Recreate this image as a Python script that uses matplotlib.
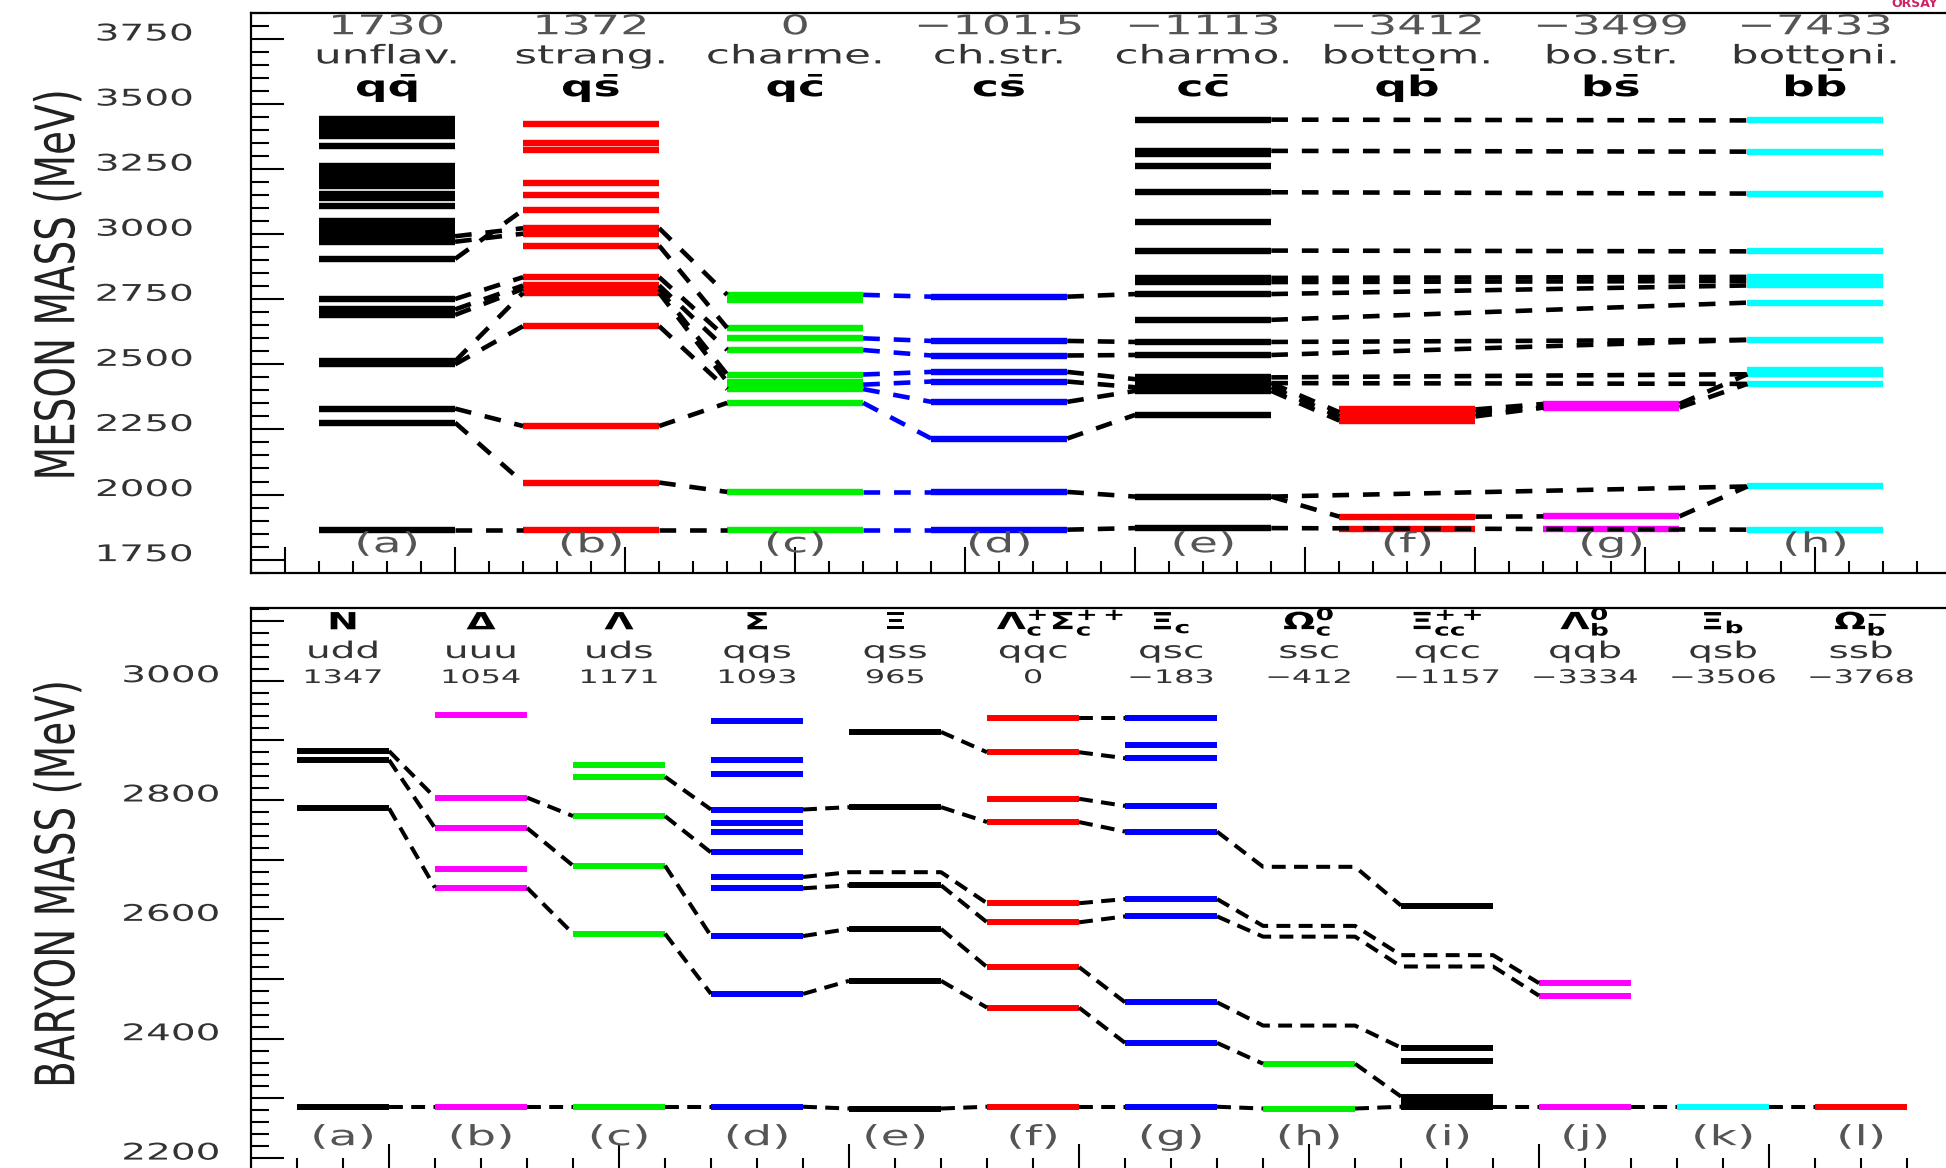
import numpy as np
import matplotlib
matplotlib.use("Agg")
import matplotlib.pyplot as plt
import matplotlib.patheffects as pe
from matplotlib.transforms import Affine2D, ScaledTranslation
from matplotlib.ticker import FixedLocator, FuncFormatter

plt.rcParams['font.family'] = ['DejaVu Sans']
plt.rcParams['mathtext.fontset'] = 'dejavusans'
plt.rcParams['lines.scale_dashes'] = False

# ---------------- mesons: levels in MeV, each family shifted by its offset ----------------
meson_offsets = ['1730', '1372', '0', '\u2212101.5', '\u22121113', '\u22123412', '\u22123499', '\u22127433']
meson_names = ['unflav.', 'strang.', 'charme.', 'ch.str.', 'charmo.', 'bottom.', 'bo.str.', 'bottoni.']
meson_quarks = [r'$\mathbf{q\bar{q}}$', r'$\mathbf{q\bar{s}}$', r'$\mathbf{q\bar{c}}$', r'$\mathbf{c\bar{s}}$',
                r'$\mathbf{c\bar{c}}$', r'$\mathbf{q\bar{b}}$', r'$\mathbf{b\bar{s}}$', r'$\mathbf{b\bar{b}}$']
meson_tags = ['(a)', '(b)', '(c)', '(d)', '(e)', '(f)', '(g)', '(h)']
meson_colors = ['black', 'red', '#00ee00', '#0000ff', 'black', 'red', '#ff00ff', '#00ffff']

lv_qq = [1865, 2276, 2330, 2500, 2512, 2690, 2711, 2751, 2905, 2971, 2992, 3013, 3034, 3052,
         3107, 3138, 3155, 3187, 3207, 3228, 3249, 3262, 3338, 3379, 3400, 3421, 3443]
lv_qs = [1865, 2046, 2263, 2647, 2775, 2790, 2803, 2835, 2956, 3002, 3023, 3093, 3152, 3198,
         3322, 3352, 3422]
lv_qc = [1865, 2010, 2352, 2405, 2422, 2433, 2461, 2555, 2600, 2640, 2746, 2767]
lv_cs = [1865, 2010, 2215, 2356, 2434, 2471, 2534, 2590, 2760]
lv_cc = [1871, 1992, 2306, 2398, 2412, 2428, 2443, 2450, 2536, 2586, 2671, 2770, 2816, 2832,
         2937, 3048, 3161, 3262, 3308, 3320, 3440]
lv_qb = [1867, 1915, 2284, 2300, 2316, 2327]
lv_bs = [1868, 1916, 2334, 2348]
lv_bb = [1865, 2031, 2425, 2462, 2477, 2594, 2737, 2803, 2820, 2836, 2934, 3156, 3317, 3437]
meson_levels = [lv_qq, lv_qs, lv_qc, lv_cs, lv_cc, lv_qb, lv_bs, lv_bb]

# dashed correspondences: chains of (column, level)
meson_links = [
    [(0, 1865), (1, 1865)], [(0, 2276), (1, 2046)], [(0, 2330), (1, 2263)],
    [(0, 2500), (1, 2647)], [(0, 2512), (1, 2775)], [(0, 2690), (1, 2790)],
    [(0, 2711), (1, 2803)], [(0, 2751), (1, 2835)], [(0, 2905), (1, 3093)],
    [(0, 2971), (1, 3002)], [(0, 2992), (1, 3023)],
    [(1, 1865), (2, 1865)], [(1, 2046), (2, 2010)], [(1, 2263), (2, 2352)],
    [(1, 2647), (2, 2405)], [(1, 2775), (2, 2433)], [(1, 2790), (2, 2461)],
    [(1, 2803), (2, 2555)], [(1, 2835), (2, 2600)], [(1, 2956), (2, 2640)],
    [(1, 3023), (2, 2767)],
    [(3, 1865), (4, 1871)], [(3, 2010), (4, 1992)], [(3, 2215), (4, 2306)],
    [(3, 2356), (4, 2398)], [(3, 2434), (4, 2412)], [(3, 2471), (4, 2443)],
    [(3, 2534), (4, 2536)], [(3, 2590), (4, 2586)], [(3, 2760), (4, 2770)],
    [(4, 2398), (5, 2284)], [(4, 2412), (5, 2300)], [(4, 2428), (5, 2316)],
    [(4, 1992), (5, 1915)],
    [(5, 1915), (6, 1916)], [(5, 2300), (6, 2334)], [(5, 2316), (6, 2334)], [(5, 2327), (6, 2348)],
    [(6, 1916), (7, 2031)], [(6, 2334), (7, 2425)], [(6, 2348), (7, 2462)],
    [(4, 1871), (7, 1865)], [(4, 1992), (7, 2031)], [(4, 2428), (7, 2425)],
    [(4, 2450), (7, 2462)], [(4, 2536), (7, 2594)], [(4, 2586), (7, 2594)],
    [(4, 2671), (7, 2737)], [(4, 2770), (7, 2803)], [(4, 2816), (7, 2820)],
    [(4, 2832), (7, 2836)], [(4, 2937), (7, 2934)], [(4, 3161), (7, 3156)],
    [(4, 3320), (7, 3317)], [(4, 3440), (7, 3437)],
]
meson_links_blue = [
    [(2, 1865), (3, 1865)], [(2, 2010), (3, 2010)], [(2, 2352), (3, 2215)],
    [(2, 2405), (3, 2356)], [(2, 2422), (3, 2434)], [(2, 2461), (3, 2471)],
    [(2, 2555), (3, 2534)], [(2, 2600), (3, 2590)], [(2, 2767), (3, 2760)],
]

# ---------------- baryons ----------------
baryon_symbols = ['N', '\u0394', '\u039b', '\u03a3', '\u039e',
                  r'$\mathbf{\Lambda_c^{+}\Sigma_c^{++}}$', r'$\mathbf{\Xi_c}$', r'$\mathbf{\Omega_c^{0}}$',
                  r'$\mathbf{\Xi_{cc}^{++}}$', r'$\mathbf{\Lambda_b^{0}}$', r'$\mathbf{\Xi_b}$',
                  r'$\mathbf{\Omega_b^{-}}$']
baryon_quarks = ['udd', 'uuu', 'uds', 'qqs', 'qss', 'qqc', 'qsc', 'ssc', 'qcc', 'qqb', 'qsb', 'ssb']
baryon_offsets = ['1347', '1054', '1171', '1093', '965', '0', '\u2212183', '\u2212412',
                  '\u22121157', '\u22123334', '\u22123506', '\u22123768']
baryon_tags = ['(a)', '(b)', '(c)', '(d)', '(e)', '(f)', '(g)', '(h)', '(i)', '(j)', '(k)', '(l)']
baryon_colors = ['black', '#ff00ff', '#00ee00', '#0000ff', 'black', 'red',
                 '#0000ff', '#00ee00', 'black', '#ff00ff', '#00ffff', 'red']

lv_N = [2286, 2786, 2867, 2882]
lv_Delta = [2286, 2653, 2684, 2753, 2804, 2943]
lv_Lambda = [2286, 2576, 2690, 2773, 2839, 2859]
lv_Sigma = [2286, 2475, 2572, 2652, 2671, 2712, 2747, 2762, 2784, 2844, 2867, 2932]
lv_Xi = [2283, 2497, 2584, 2657, 2788, 2914]
lv_Lc_Sc = [2286, 2452, 2520, 2595, 2627, 2763, 2802, 2880, 2938]
lv_Xic = [2286, 2393, 2461, 2605, 2634, 2747, 2790, 2870, 2892, 2938]
lv_Omc = [2283, 2358]
lv_Xicc = [2286, 2294, 2303, 2362, 2385, 2623]
lv_Lb = [2286, 2472, 2493]
lv_Xib = [2286]
lv_Omb = [2286]
baryon_levels = [lv_N, lv_Delta, lv_Lambda, lv_Sigma, lv_Xi, lv_Lc_Sc, lv_Xic, lv_Omc,
                 lv_Xicc, lv_Lb, lv_Xib, lv_Omb]

baryon_links = [
    [(0, 2882), (1, 2804)], [(0, 2867), (1, 2753)], [(0, 2786), (1, 2653)],
    [(1, 2804), (2, 2773)], [(1, 2753), (2, 2690)], [(1, 2653), (2, 2576)],
    [(2, 2839), (3, 2784)], [(2, 2773), (3, 2712)], [(2, 2690), (3, 2572)], [(2, 2576), (3, 2475)],
    [(3, 2784), (4, 2788)], [(3, 2652), (4, 2657)], [(3, 2572), (4, 2584)], [(3, 2475), (4, 2497)],
    [(3, 2671), (4, 2679), (5, 2627)],
    [(4, 2914), (5, 2880)], [(4, 2788), (5, 2763)], [(4, 2657), (5, 2595)],
    [(4, 2584), (5, 2520)], [(4, 2497), (5, 2452)],
    [(5, 2938), (6, 2938)], [(5, 2880), (6, 2870)], [(5, 2802), (6, 2790)], [(5, 2763), (6, 2747)],
    [(5, 2627), (6, 2634)], [(5, 2595), (6, 2605)], [(5, 2520), (6, 2461)], [(5, 2452), (6, 2393)],
    [(6, 2747), (7, 2688), (8, 2623)], [(6, 2634), (7, 2589), (8, 2540), (9, 2493)],
    [(6, 2605), (7, 2571), (8, 2521), (9, 2472)], [(6, 2461), (7, 2422), (8, 2385)],
    [(6, 2393), (7, 2358)], [(7, 2358), (8, 2303)],
]


class Stretch(pe.AbstractPathEffect):
    """Widen the glyphs, the source picture was resampled wider than tall."""
    def __init__(self, sx=1.0, sy=1.0, anchor='center'):
        super().__init__()
        self.sx, self.sy, self.anchor = sx, sy, anchor

    def draw_path(self, renderer, gc, tpath, affine, rgbFace=None):
        ext = tpath.get_extents()
        if self.anchor == 'right':
            cx = ext.x1
        elif self.anchor == 'left':
            cx = ext.x0
        else:
            cx = 0.5 * (ext.x0 + ext.x1)
        cy = 0.5 * (ext.y0 + ext.y1)
        st = Affine2D().translate(-cx, -cy).scale(self.sx, self.sy).translate(cx, cy)
        renderer.draw_path(gc, tpath, st + affine, rgbFace)


def wide(t, anchor='center', sx=1.7):
    t.set_path_effects([Stretch(sx, 1.0, anchor)])
    return t


def draw_panel(ax, levels, colors, links, x0, step, width, lw, dash, dlw, link_color='black'):
    for i, (lv, c) in enumerate(zip(levels, colors)):
        ax.hlines(lv, x0 + step * i, x0 + step * i + width, colors=c, linewidth=lw,
                  capstyle='butt', zorder=2)
    for chain in links:
        xs, ys = [], []
        for k, (col, lvl) in enumerate(chain):
            if k > 0:
                xs.append(x0 + step * col)
                ys.append(lvl)
            if k < len(chain) - 1:
                xs.append(x0 + step * col + width)
                ys.append(lvl)
        ax.plot(xs, ys, color=link_color, lw=dlw, linestyle=(0, dash),
                dash_capstyle='butt', zorder=3)


def style(fig, ax, xmaj, xmin, ymaj, ymin, pad, fmt):
    ax.xaxis.set_major_locator(FixedLocator(xmaj))
    ax.xaxis.set_minor_locator(FixedLocator(xmin))
    ax.yaxis.set_major_locator(FixedLocator(ymaj))
    ax.yaxis.set_minor_locator(FixedLocator(ymin))
    ax.yaxis.set_major_formatter(FuncFormatter(fmt))
    ax.tick_params(which='both', direction='in', top=False, right=False, width=1.5, color='black')
    ax.tick_params(axis='y', which='major', length=24, pad=pad, labelsize=16.5, labelcolor='#333333')
    ax.tick_params(axis='y', which='minor', length=13)
    ax.tick_params(axis='x', which='major', length=19, labelbottom=False)
    ax.tick_params(axis='x', which='minor', length=9)
    for s in ax.spines.values():
        s.set_linewidth(1.6)
    lift = ScaledTranslation(0, 5 / 100, fig.dpi_scale_trans)
    for lab in ax.get_yticklabels():
        lab.set_verticalalignment('center')
        lab.set_transform(lab.get_transform() + lift)
        wide(lab, 'right')


fig = plt.figure(figsize=(19.46, 11.68), dpi=100)
left = 251 / 1946
w_ax = 1709 / 1946
ax1 = fig.add_axes([left, 1 - 573.4 / 1168, w_ax, (573.4 - 12.9) / 1168])
ax2 = fig.add_axes([left, 1 - 1170 / 1168, w_ax, (1170 - 608.4) / 1168])

# ---- top panel ----
ax1.set_xlim(0, 10.05)
ax1.set_ylim(1697, 3850)
draw_panel(ax1, meson_levels, meson_colors, meson_links, 0.4, 1.2, 0.8, 4.6, (12, 10), 3.3)
draw_panel(ax1, [], [], meson_links_blue, 0.4, 1.2, 0.8, 4.6, (12, 10), 3.3, link_color='#0000ff')
style(fig, ax1, np.arange(0.2, 10.05, 1.0), np.arange(0.0, 10.05, 0.2),
      np.arange(1750, 3751, 250), np.arange(1700, 3851, 50), 42,
      lambda v, p: f'{v:.0f}')

for i in range(len(meson_levels)):
    xc = 0.8 + 1.2 * i
    wide(ax1.text(xc, 3768, meson_offsets[i], ha='center', va='baseline', fontsize=19.5,
                  color='#555555', clip_on=False))
    wide(ax1.text(xc, 3656, meson_names[i], ha='center', va='baseline', fontsize=18.5,
                  color='#333333', clip_on=False))
    wide(ax1.text(xc, 3530, meson_quarks[i], ha='center', va='baseline', fontsize=20.5,
                  color='black', clip_on=False), sx=1.6)
    wide(ax1.text(xc, 1809, meson_tags[i], ha='center', va='center', fontsize=20,
                  color='#555555', zorder=4))

# ---- bottom panel ----
ax2.set_xlim(0, 7.43)
ax2.set_ylim(2180, 3121)
draw_panel(ax2, baryon_levels, baryon_colors, baryon_links, 0.2, 0.6, 0.4, 4.3, (10, 6), 2.9)
ground = [[(i, baryon_levels[i][0]), (i + 1, baryon_levels[i + 1][0])] for i in range(len(baryon_levels) - 1)]
draw_panel(ax2, [], [], ground, 0.2, 0.6, 0.4, 4.3, (10, 6), 2.9)
style(fig, ax2, np.arange(0.6, 7.43, 1.0), np.arange(0.2, 7.43, 0.2),
      np.arange(2200, 3101, 100), np.arange(2180, 3121, 20), 23,
      lambda v, p: f'{v:.0f}' if round(v) % 200 == 0 else '')

for i in range(len(baryon_levels)):
    xc = 0.4 + 0.6 * i
    dx = 0.12 if i == 5 else 0.0
    wide(ax2.text(xc + dx, 3086, baryon_symbols[i], ha='center', va='baseline', fontsize=17,
                  fontweight='bold', color='black', clip_on=False), sx=1.6)
    wide(ax2.text(xc, 3038, baryon_quarks[i], ha='center', va='baseline', fontsize=16.5,
                  color='#333333'))
    wide(ax2.text(xc, 2996, baryon_offsets[i], ha='center', va='baseline', fontsize=13.5,
                  color='#333333'))
    wide(ax2.text(xc, 2235, baryon_tags[i], ha='center', va='center', fontsize=20,
                  color='#555555', zorder=4))

# ---- axis titles ----
for txt, yy in [('MESON MASS (MeV)', 1 - 285 / 1168), ('BARYON MASS (MeV)', 1 - 884 / 1168)]:
    t = fig.text(0.03, yy, txt, rotation=90, ha='center', va='center', fontsize=28, color='#222222')
    t.set_path_effects([Stretch(1.0, 1.4)])

fig.text(0.972, 0.997, 'ORSAY', ha='left', va='center', fontsize=9, fontweight='bold', color='#cc2266')

fig.savefig('out.png', dpi=100)
